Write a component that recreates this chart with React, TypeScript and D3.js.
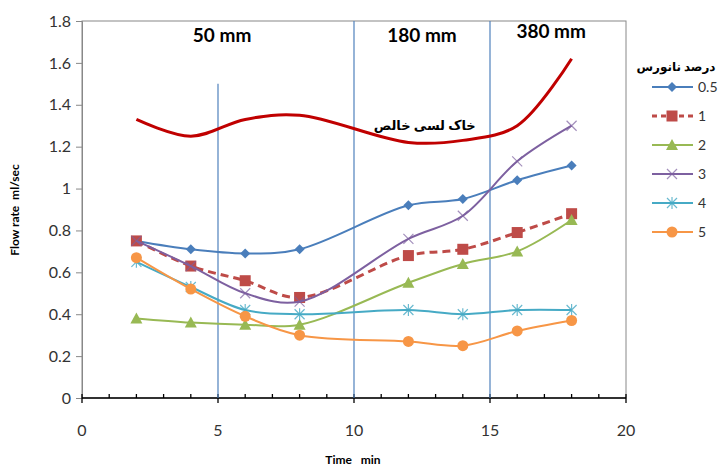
import * as d3 from 'd3';
import { useEffect, useRef } from 'react';

const times = [2, 4, 6, 8, 12, 14, 16, 18];
const pureSoil = [1.33, 1.25, 1.33, 1.35, 1.22, 1.23, 1.3, 1.62];
const s05 = [0.75, 0.71, 0.69, 0.71, 0.92, 0.95, 1.04, 1.11];
const s1 = [0.75, 0.63, 0.56, 0.48, 0.68, 0.71, 0.79, 0.88];
const s2 = [0.38, 0.36, 0.35, 0.35, 0.55, 0.64, 0.7, 0.85];
const s3 = [0.75, 0.63, 0.5, 0.46, 0.76, 0.87, 1.13, 1.3];
const s4 = [0.65, 0.53, 0.42, 0.4, 0.42, 0.4, 0.42, 0.42];
const s5 = [0.67, 0.52, 0.39, 0.3, 0.27, 0.25, 0.32, 0.37];
const seriesNames = ['0.5', '1', '2', '3', '4', '5'];
const seriesColors = ['#4A7EBB', '#BE4B48', '#98B954', '#7D60A0', '#46AAC5', '#F79646'];
const seriesMarkers = ['diamond', 'square', 'triangle', 'x', 'star', 'circle'];
const zones = [
    { x: 5, top: 1.5 },
    { x: 10, top: 1.8 },
    { x: 15, top: 1.8 },
];
const zoneLabels = [
    { x: 5.15, y: 1.7, text: '50 mm' },
    { x: 12.5, y: 1.7, text: '180 mm' },
    { x: 17.25, y: 1.72, text: '380 mm' },
];
const legendTitle = 'درصد نانورس';
const soilLabel = 'خاک لسی خالص';
const xTicks = [0, 5, 10, 15, 20];
const yTicks = [0, 0.2, 0.4, 0.6, 0.8, 1, 1.2, 1.4, 1.6, 1.8];

const FONT = 'Lato, "DejaVu Sans", sans-serif';

export default function App() {
    const ref = useRef<SVGSVGElement>(null);

    useEffect(() => {
        const svg = d3.select(ref.current);
        svg.selectAll('*').remove();

        const margin = { top: 21, right: 94, bottom: 68, left: 82 },
            width = 720 - margin.left - margin.right,
            height = 466 - margin.top - margin.bottom;

        const x = d3.scaleLinear().domain([0, 20]).range([margin.left, margin.left + width]);
        const y = d3.scaleLinear().domain([0, 1.8]).range([margin.top + height, margin.top]);

        // plot frame
        svg.append('rect')
            .attr('x', x(0))
            .attr('y', y(1.8))
            .attr('width', x(20) - x(0))
            .attr('height', y(0) - y(1.8))
            .attr('fill', 'none')
            .attr('stroke', '#888')
            .attr('stroke-width', 1);

        // y axis
        const yAxis = svg.append('g').attr('transform', `translate(${x(0)},0)`)
            .call(d3.axisLeft(y).tickValues(yTicks).tickSize(6).tickFormat((d) => `${d}`));
        yAxis.select('.domain').attr('stroke', '#888');
        yAxis.selectAll('.tick line').attr('stroke', '#888');
        yAxis.selectAll('.tick text')
            .attr('font-family', FONT)
            .attr('font-size', 16)
            .attr('fill', '#333')
            .attr('x', -11);

        // x axis: minor ticks up, major ticks down
        const xAxis = svg.append('g').attr('transform', `translate(0,${y(0)})`);
        xAxis.append('line')
            .attr('x1', x(0)).attr('x2', x(20))
            .attr('stroke', '#000').attr('stroke-width', 1.5);
        d3.range(0, 21).forEach((t) => {
            const major = t % 5 === 0;
            xAxis.append('line')
                .attr('x1', x(t)).attr('x2', x(t))
                .attr('y1', -4)
                .attr('y2', major ? 5 : 0)
                .attr('stroke', '#000').attr('stroke-width', 1.3);
        });
        xAxis.selectAll('text.xt')
            .data(xTicks)
            .join('text')
            .attr('class', 'xt')
            .attr('x', (d) => x(d))
            .attr('y', 38)
            .attr('text-anchor', 'middle')
            .attr('font-family', FONT)
            .attr('font-size', 16)
            .attr('fill', '#333')
            .text((d) => d);

        // zone lines
        svg.selectAll('line.zone')
            .data(zones)
            .join('line')
            .attr('class', 'zone')
            .attr('x1', (d) => x(d.x)).attr('x2', (d) => x(d.x))
            .attr('y1', (d) => y(d.top)).attr('y2', y(0))
            .attr('stroke', '#4F81BD').attr('stroke-width', 1.2);

        svg.selectAll('text.zl')
            .data(zoneLabels)
            .join('text')
            .attr('class', 'zl')
            .attr('x', (d) => x(d.x))
            .attr('y', (d) => y(d.y))
            .attr('text-anchor', 'middle')
            .attr('font-family', FONT)
            .attr('font-weight', 'bold')
            .attr('font-size', 19)
            .text((d) => d.text);

        const line = d3.line<[number, number]>()
            .x((d) => x(d[0]))
            .y((d) => y(d[1]))
            .curve(d3.curveCatmullRom.alpha(0.5));

        // pure soil
        svg.append('path')
            .attr('d', line(times.map((t, i) => [t, pureSoil[i]]))!)
            .attr('fill', 'none')
            .attr('stroke', '#C00000')
            .attr('stroke-width', 3);
        svg.append('text')
            .attr('x', x(12.6))
            .attr('y', y(1.28))
            .attr('text-anchor', 'middle')
            .attr('font-family', FONT)
            .attr('font-weight', 'bold')
            .attr('font-size', 13)
            .text(soilLabel);

        const seriesValues = [s05, s1, s2, s3, s4, s5];

        const drawMarker = (g: d3.Selection<SVGGElement, unknown, null, undefined>, kind: string, color: string, cx: number, cy: number) => {
            if (kind === 'diamond') {
                g.append('path').attr('d', `M${cx},${cy - 5}L${cx + 5},${cy}L${cx},${cy + 5}L${cx - 5},${cy}Z`).attr('fill', color);
            } else if (kind === 'square') {
                g.append('rect').attr('x', cx - 5.5).attr('y', cy - 5.5).attr('width', 11).attr('height', 11).attr('fill', color);
            } else if (kind === 'triangle') {
                g.append('path').attr('d', `M${cx},${cy - 6}L${cx + 6},${cy + 5}L${cx - 6},${cy + 5}Z`).attr('fill', color);
            } else if (kind === 'x') {
                g.append('path').attr('d', `M${cx - 5},${cy - 5}L${cx + 5},${cy + 5}M${cx - 5},${cy + 5}L${cx + 5},${cy - 5}`)
                    .attr('stroke', color).attr('stroke-width', 1.2).attr('opacity', 0.7);
            } else if (kind === 'star') {
                g.append('path').attr('d', `M${cx - 5},${cy - 5}L${cx + 5},${cy + 5}M${cx - 5},${cy + 5}L${cx + 5},${cy - 5}M${cx},${cy - 6}L${cx},${cy + 6}`)
                    .attr('stroke', color).attr('stroke-width', 1.2).attr('opacity', 0.8);
            } else {
                g.append('circle').attr('cx', cx).attr('cy', cy).attr('r', 5.5).attr('fill', color);
            }
        };

        seriesValues.forEach((vals, si) => {
            const g = svg.append('g');
            g.append('path')
                .attr('d', line(times.map((t, i) => [t, vals[i]]))!)
                .attr('fill', 'none')
                .attr('stroke', seriesColors[si])
                .attr('stroke-width', si === 1 ? 3 : 2)
                .attr('stroke-dasharray', si === 1 ? '8,5' : null);
            times.forEach((t, i) => drawMarker(g, seriesMarkers[si], seriesColors[si], x(t), y(vals[i])));
        });

        // legend
        const legend = svg.append('g');
        legend.append('text')
            .attr('x', 676).attr('y', 71)
            .attr('text-anchor', 'middle')
            .attr('font-family', FONT)
            .attr('font-weight', 'bold')
            .attr('font-size', 12)
            .text(legendTitle);
        seriesNames.forEach((name, si) => {
            const ly = 87 + si * 29;
            const g = legend.append('g');
            g.append('line')
                .attr('x1', 652).attr('x2', 693)
                .attr('y1', ly).attr('y2', ly)
                .attr('stroke', seriesColors[si])
                .attr('stroke-width', si === 1 ? 3 : 2)
                .attr('stroke-dasharray', si === 1 ? '5,4' : null);
            drawMarker(g, seriesMarkers[si], seriesColors[si], 672, ly);
            g.append('text')
                .attr('x', 698).attr('y', ly + 5)
                .attr('font-family', FONT)
                .attr('font-size', 14)
                .attr('fill', '#333')
                .text(name);
        });

        // axis titles
        svg.append('text')
            .attr('transform', `translate(19,${210}) rotate(-90)`)
            .attr('text-anchor', 'middle')
            .attr('font-family', FONT)
            .attr('font-weight', 'bold')
            .attr('font-size', 12)
            .attr('xml:space', 'preserve')
            .text('Flow rate  ml/sec');
        svg.append('text')
            .attr('x', 353).attr('y', 464)
            .attr('text-anchor', 'middle')
            .attr('font-family', FONT)
            .attr('font-weight', 'bold')
            .attr('font-size', 12)
            .attr('xml:space', 'preserve')
            .text('Time   min');
    }, []);

    return (
        <svg
            ref={ref}
            width={720}
            height={466}
            style={{ position: 'absolute', left: 0, top: 0, background: '#fff' }}
        />
    );
}
